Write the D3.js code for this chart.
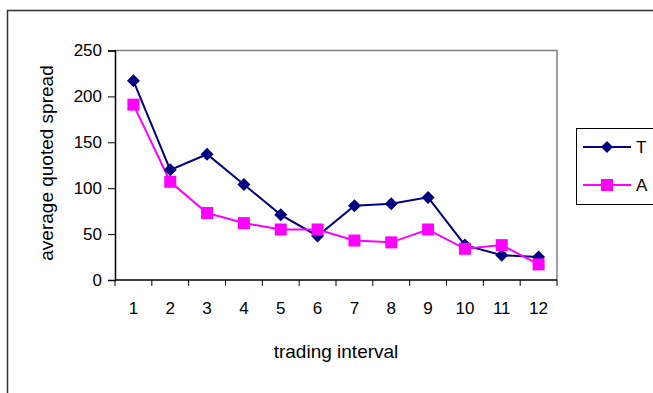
<!DOCTYPE html>
<html><head><meta charset="utf-8">
<script src="https://cdn.jsdelivr.net/npm/d3@7"></script>
<style>body{margin:0;background:#fff;overflow:hidden}svg{display:block}text{font-family:"Liberation Sans",Arial,sans-serif}</style>
</head><body><svg id="c" width="653" height="393"></svg>
<script>
const categories = ["1","2","3","4","5","6","7","8","9","10","11","12"];
const seriesT = [217,120,137,104,71,48,81,83,90,38,27,25];
const seriesA = [191,107,73,62,55,55,43,41,55,34,38,17];
const yTicks = [0,50,100,150,200,250];

const svg = d3.select("#c");
// outer frame
svg.append("rect").attr("x",7.5).attr("y",10.5).attr("width",700).attr("height",500)
  .attr("fill","none").attr("stroke","#333").attr("stroke-width",1.5);

const x0=115,x1=557,yTop=50.5,yBot=280;
const x = d3.scaleBand().domain(categories).range([x0,x1]);
const y = d3.scaleLinear().domain([0,250]).range([yBot,yTop]);

// plot border (top/right gray)
svg.append("path").attr("d",`M${x0},${yTop}H${x1}V${yBot}`).attr("fill","none").attr("stroke","#808080").attr("stroke-width",1.5);

// y axis
const ya = svg.append("g").attr("transform",`translate(${x0},0)`)
  .call(d3.axisLeft(y).tickValues(yTicks).tickSize(7).tickPadding(6));
ya.select(".domain").attr("stroke","#000").attr("stroke-width",1.5);
ya.selectAll(".tick line").attr("stroke","#000");
ya.selectAll("text").attr("font-size",17).attr("fill","#000").attr("font-family","Liberation Sans, Arial, sans-serif");

// x axis with ticks at band boundaries
const xa = svg.append("g").attr("transform",`translate(0,${yBot})`);
xa.append("line").attr("x1",x0).attr("x2",x1).attr("stroke","#000").attr("stroke-width",1.5);
const bounds = categories.map(c=>x(c)).concat([x1]);
xa.selectAll("line.t").data(bounds).join("line").attr("class","t")
  .attr("x1",d=>d).attr("x2",d=>d).attr("y1",0).attr("y2",6).attr("stroke","#000");
xa.selectAll("text").data(categories).join("text")
  .attr("x",d=>x(d)+x.bandwidth()/2).attr("y",34).attr("text-anchor","middle")
  .attr("font-size",17).text(d=>d);

const cx = d=>x(d)+x.bandwidth()/2;
const line = d3.line().x((d,i)=>cx(categories[i])).y(d=>y(d));

svg.append("path").datum(seriesT).attr("d",line).attr("fill","none").attr("stroke","#000080").attr("stroke-width",2);
svg.append("path").datum(seriesA).attr("d",line).attr("fill","none").attr("stroke","#FF00FF").attr("stroke-width",2);

const diamond = s=>`M0,${-s}L${s},0L0,${s}L${-s},0Z`;
svg.selectAll("path.dT").data(seriesT).join("path").attr("class","dT")
  .attr("d",diamond(6.5)).attr("transform",(d,i)=>`translate(${cx(categories[i])},${y(d)})`).attr("fill","#000080");
svg.selectAll("rect.sA").data(seriesA).join("rect").attr("class","sA")
  .attr("x",(d,i)=>cx(categories[i])-6).attr("y",d=>y(d)-6).attr("width",12).attr("height",12).attr("fill","#FF00FF");

// axis titles
svg.append("text").attr("x",336).attr("y",358).attr("text-anchor","middle").attr("font-size",19).text("trading interval");
svg.append("text").attr("transform","translate(53,163) rotate(-90)").attr("text-anchor","middle").attr("font-size",19).text("average quoted spread");

// legend
const lg = svg.append("g");
lg.append("rect").attr("x",576.5).attr("y",128.5).attr("width",100).attr("height",76).attr("fill","#fff").attr("stroke","#000");
const items=[{n:"T",c:"#000080",t:"d",yy:147},{n:"A",c:"#FF00FF",t:"s",yy:185}];
items.forEach(it=>{
  lg.append("line").attr("x1",583).attr("x2",631).attr("y1",it.yy).attr("y2",it.yy).attr("stroke",it.c).attr("stroke-width",2);
  if(it.t==="d") lg.append("path").attr("d",diamond(6)).attr("transform",`translate(607,${it.yy})`).attr("fill",it.c);
  else lg.append("rect").attr("x",601).attr("y",it.yy-6).attr("width",12).attr("height",12).attr("fill",it.c);
  lg.append("text").attr("x",636).attr("y",it.yy+6).attr("font-size",17).text(it.n);
});
</script></body></html>
